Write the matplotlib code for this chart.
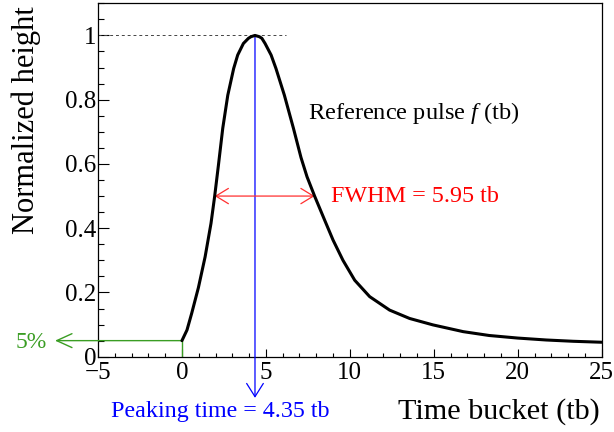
import matplotlib
matplotlib.use("Agg")
import matplotlib.pyplot as plt
from matplotlib.ticker import MultipleLocator

plt.rcParams['font.family'] = ['Liberation Serif', 'DejaVu Serif']
plt.rcParams['mathtext.fontset'] = 'custom'
plt.rcParams['mathtext.rm'] = 'Liberation Serif'
plt.rcParams['mathtext.it'] = 'Liberation Serif:italic'

# reference pulse
time_tb = [0, 0.30, 0.58, 0.98, 1.38, 1.73, 1.95, 2.17, 2.43, 2.73, 3.08, 3.32, 3.66,
           3.96, 4.11, 4.35, 4.61, 4.76, 4.95, 5.31, 5.60, 6.10, 6.64, 7.09, 7.45, 7.9,
           8.5, 9.0, 9.59, 10.29, 11.18, 12.37, 13.56, 14.95, 16.75, 18.3, 20, 21.7, 23.3, 25]
height = [0.05, 0.083, 0.135, 0.215, 0.311, 0.415, 0.50, 0.595, 0.711, 0.814, 0.897, 0.939, 0.975,
          0.991, 0.996, 1.0, 0.996, 0.991, 0.975, 0.939, 0.897, 0.814, 0.711, 0.62, 0.56, 0.50,
          0.425, 0.363, 0.30, 0.238, 0.187, 0.145, 0.119, 0.099, 0.078, 0.066, 0.058, 0.052, 0.048, 0.045]

peak_time = 4.35
fwhm_left, fwhm_right = 1.95, 7.9
start_level = 0.05

fig = plt.figure(figsize=(6.14, 4.32), dpi=100)
ax = fig.add_axes([98/614, 1-356.7/432, 503.7/614, 353.4/432])

ax.plot(time_tb, height, color='black', lw=2.2, solid_capstyle='round',
        solid_joinstyle='round', zorder=5)

ax.set_xlim(-5, 25)
ax.set_ylim(0, 1.1)
ax.xaxis.set_major_locator(MultipleLocator(5))
ax.xaxis.set_minor_locator(MultipleLocator(1))
ax.yaxis.set_major_locator(MultipleLocator(0.2))
ax.yaxis.set_minor_locator(MultipleLocator(0.05))
ax.yaxis.set_major_formatter(plt.FuncFormatter(lambda v, p: '%g' % round(v, 2)))
ax.tick_params(which='both', direction='in', top=False, right=False, labelsize=18)
ax.tick_params(axis='x', which='major', length=6, width=0.8, pad=4)
ax.tick_params(axis='x', which='minor', length=3, width=0.8)
ax.tick_params(axis='y', which='major', length=8, width=0.8, pad=1)
ax.tick_params(axis='y', which='minor', length=4.5, width=0.8)
for s in ax.spines.values():
    s.set_linewidth(0.9)

# dashed line at maximum
ax.plot([-5, 6.2], [1, 1], color='#444444', lw=0.7, dashes=(3, 3))

# peaking time
ax.annotate('', xy=(peak_time, -0.128), xytext=(peak_time, 1.0),
            arrowprops=dict(arrowstyle='->,head_length=0.95,head_width=0.6', color='blue',
                            lw=0.9, shrinkA=0, shrinkB=0, mutation_scale=10),
            annotation_clip=False)
ax.text(peak_time - 2.05, -0.172, 'Peaking time = 4.35 tb', color='blue', fontsize=17.3,
        ha='center', va='center', clip_on=False)

# FWHM
ax.annotate('', xy=(fwhm_left, 0.5), xytext=(fwhm_right, 0.5),
            arrowprops=dict(arrowstyle='<->,head_length=0.9,head_width=0.55', color='#ff3030',
                            lw=0.9, shrinkA=0, shrinkB=0, mutation_scale=10))
ax.text(8.87, 0.5, 'FWHM = 5.95 tb', color='red', fontsize=17.4, ha='left', va='center')

# start level
green = '#3a9d23'
ax.plot([0, 0], [0, start_level], color=green, lw=1.0)
ax.annotate('', xy=(-7.56, start_level), xytext=(0, start_level),
            arrowprops=dict(arrowstyle='->,head_length=1.1,head_width=0.5', color=green,
                            lw=1.0, shrinkA=0, shrinkB=0, mutation_scale=10),
            annotation_clip=False)
fig.text(31/614, 1-343/432, '5%', color=green, fontsize=17, ha='center', va='center')

ax.text(7.5, 0.758, 'Reference pulse $f$ (tb)', fontsize=17.6, ha='left', va='center')

fig.text(26/614, 1-120/432, 'Normalized height', fontsize=22, rotation=90,
         ha='center', va='center')
fig.text(600/614, 1-412/432, 'Time bucket (tb)', fontsize=21.8, ha='right', va='center')

fig.savefig('out.png', dpi=100)
